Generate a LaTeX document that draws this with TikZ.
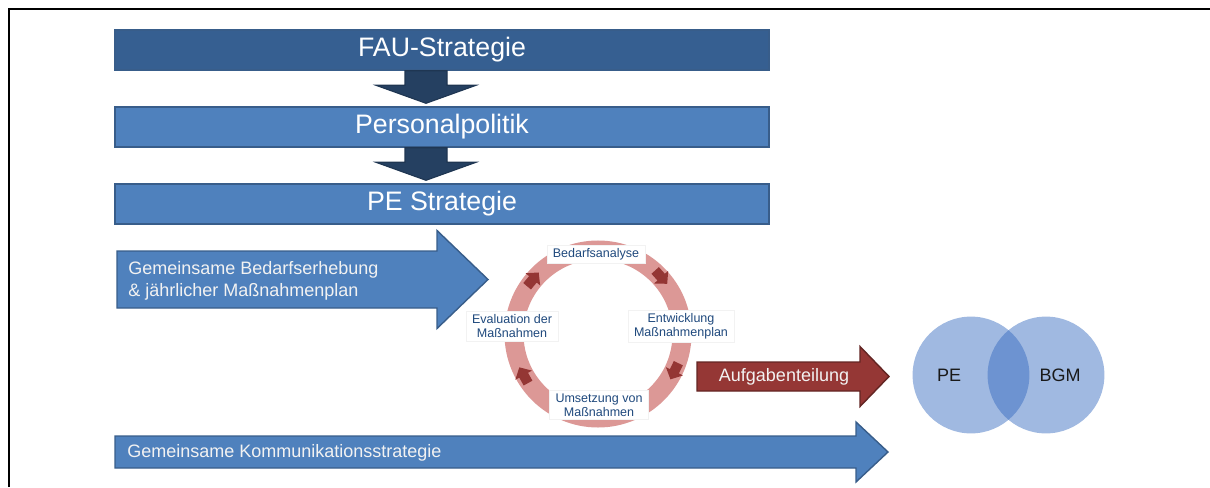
\documentclass[tikz,border=0pt]{standalone}
\usepackage{fontspec}
\setmainfont{Liberation Sans}
\usetikzlibrary{calc}
\definecolor{faudark}{HTML}{365F91}
\definecolor{boxblue}{HTML}{4F81BD}
\definecolor{boxline}{HTML}{385D8A}
\definecolor{navy}{HTML}{254061}
\definecolor{navyline}{HTML}{1F3652}
\definecolor{redfill}{HTML}{953735}
\definecolor{redline}{HTML}{632523}
\definecolor{ringpink}{HTML}{DC9896}
\definecolor{ringarrow}{HTML}{943634}
\definecolor{cycletext}{HTML}{1F497D}
\definecolor{venncol}{HTML}{356ABF}
\newcommand{\bigfont}{\fontsize{19}{22}\selectfont}
\newcommand{\midfont}{\fontsize{12.8}{15.6}\selectfont}
\newcommand{\smallfont}{\fontsize{8.9}{10}\selectfont}
\tikzset{
  stratbox/.style={draw=boxline, line width=1pt, fill=boxblue, text=white,
    minimum width=16.35cm, minimum height=1cm, font=\bigfont},
  downblk/.style={fill=navy, draw=navyline, line width=0.8pt},
  blueblk/.style={fill=boxblue, draw=boxline, line width=1pt},
  redblk/.style={fill=redfill, draw=redline, line width=1pt},
  arrowtext/.style={text=white!95!black, font=\midfont, align=left, inner sep=0pt},
  ring/.style={draw=ringpink, line width=0.475cm},
  cyclelabel/.style={fill=white, draw=black!5, line width=0.4pt, text=cycletext,
    font=\smallfont, align=center, inner xsep=0.15cm, inner ysep=0.08cm},
  venn/.style={circle, fill=venncol, fill opacity=0.47, minimum size=2.92cm, inner sep=0pt},
}
% arrow down from one box to the next
\newcommand{\downblock}[2]{%
  \coordinate (#1-top) at ($(#1.south)+(-16,0)$);
  \coordinate (#2-tip) at ($(#2.north)+(-16,-3)$);
  \filldraw[downblk] ($(#1-top)+(-21,0)$) -- ($(#1-top)+(21,0)$)
    -- ($(#2-tip)+(21,-18)$) -- ($(#2-tip)+(50,-18)$) -- (#2-tip)
    -- ($(#2-tip)+(-50,-18)$) -- ($(#2-tip)+(-21,-18)$) -- cycle;}
% block arrow to the right: style, tail x, head x, tip x, mid y, shaft half, head half
\newcommand{\rightblock}[7]{%
  \filldraw[#1] (#2,#5-#6) -- (#3,#5-#6) -- (#3,#5-#7) -- (#4,#5)
    -- (#3,#5+#7) -- (#3,#5+#6) -- (#2,#5+#6) -- cycle;}
% small arrow on the ring
\newcommand{\cyclearrow}[1]{%
  \fill[ringarrow, shift={($(cyc)+(#1:85)$)}, rotate={-(#1)-90}]
    (-9,-5) -- (0,-5) -- (0,-9.5) -- (9,0) -- (0,9.5) -- (0,5) -- (-9,5) -- cycle;}

\begin{document}
\begin{tikzpicture}[x=0.025cm, y=-0.025cm]
  \useasboundingbox (0,0) rectangle (1210,487);
  \draw[line width=1.4pt] (9,487) -- (9,9) -- (1210,9);

  % strategy levels
  \node[stratbox, fill=faudark] (fau) at (442,50) {FAU-Strategie};
  \node[stratbox] (pp) at (442,127) {Personalpolitik};
  \node[stratbox] (pes) at (442,204) {PE Strategie};
  \downblock{fau}{pp}
  \downblock{pp}{pes}

  % big arrows
  \rightblock{blueblk}{117}{437}{488}{279.5}{28.5}{49}
  \node[arrowtext, anchor=west] (bedarf) at (128,281)
    {Gemeinsame Bedarfserhebung\\\& jährlicher Maßnahmenplan};
  \rightblock{redblk}{697}{860}{889}{376.5}{14.5}{30}
  \node[arrowtext] (aufg) at (784,377) {Aufgabenteilung};
  \rightblock{blueblk}{115}{856}{888}{452}{16}{30}
  \node[arrowtext, anchor=west] (komm) at (127,453) {Gemeinsame Kommunikationsstrategie};

  % cycle
  \coordinate (cyc) at (598,334);
  \draw[ring] (cyc) circle[radius=84];
  \foreach \a in {-42,26,151,220} {\cyclearrow{\a}}
  \node[cyclelabel] (bed) at (596,254) {Bedarfsanalyse};
  \node[cyclelabel] (entw) at (681,326) {Entwicklung\\Maßnahmenplan};
  \node[cyclelabel] (ums) at (599,405) {Umsetzung von\\Maßnahmen};
  \node[cyclelabel] (eval) at (512,326) {Evaluation der\\Maßnahmen};

  % venn
  \node[venn] (pecirc) at (971,375) {};
  \node[venn] (bgmcirc) at (1046,375) {};
  \node[font=\midfont, text=black!90] (pe) at (949,375) {PE};
  \node[font=\midfont, text=black!90] (bgm) at (1060,375) {BGM};
\end{tikzpicture}
\end{document}
